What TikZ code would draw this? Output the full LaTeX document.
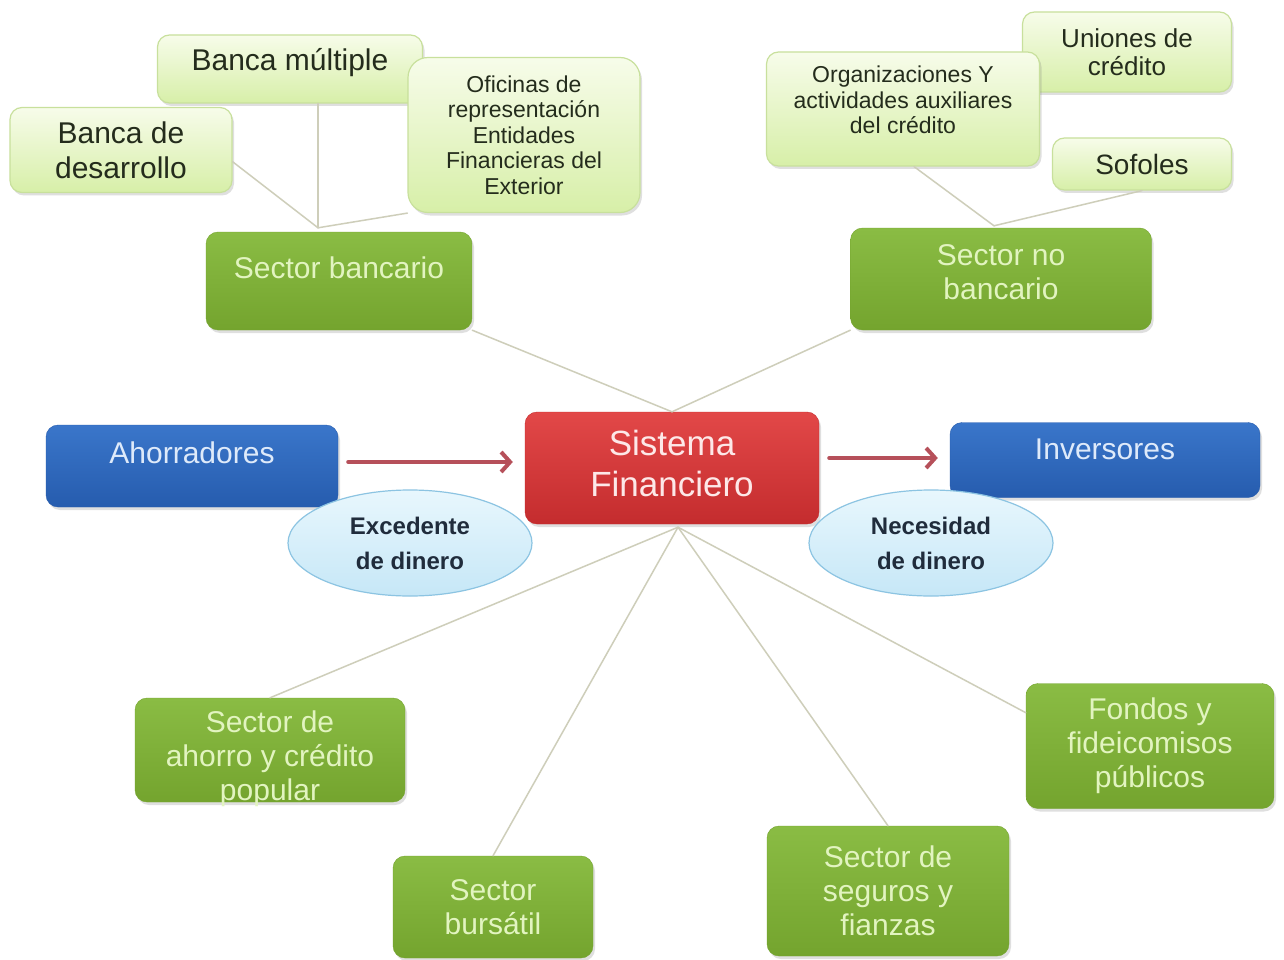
\documentclass[tikz,border=0pt]{standalone}
\usepackage{fontspec}
\setmainfont{Liberation Sans}
\usetikzlibrary{arrows.meta,shapes.geometric,shadows}

\definecolor{verdeclaro1}{RGB}{247,252,234}
\definecolor{verdeclaro2}{RGB}{215,239,168}
\definecolor{bordeclaro}{RGB}{200,224,156}
\definecolor{verdeoscuro1}{RGB}{138,188,68}
\definecolor{verdeoscuro2}{RGB}{116,164,46}
\definecolor{textoverde}{RGB}{226,244,192}
\definecolor{textooscuro}{RGB}{36,44,28}
\definecolor{azul1}{RGB}{58,118,202}
\definecolor{azul2}{RGB}{38,92,174}
\definecolor{textoazul}{RGB}{222,234,250}
\definecolor{rojo1}{RGB}{226,72,72}
\definecolor{rojo2}{RGB}{196,44,46}
\definecolor{textorojo}{RGB}{253,232,232}
\definecolor{celeste1}{RGB}{232,247,253}
\definecolor{celeste2}{RGB}{198,231,247}
\definecolor{bordeceleste}{RGB}{140,196,226}
\definecolor{textonube}{RGB}{32,44,60}
\definecolor{flecha}{RGB}{182,80,90}
\definecolor{linea}{RGB}{206,206,186}

\begin{document}
\begin{tikzpicture}[x=1pt, y=-1pt, line cap=round, line join=round,
		caja/.style={rectangle, rounded corners=12pt, inner sep=2pt, align=center,
			drop shadow={opacity=0.25, shadow xshift=2pt, shadow yshift=-3pt}},
		clara/.style={caja, draw=bordeclaro, line width=1.2pt, top color=verdeclaro1,
			bottom color=verdeclaro2, text=textooscuro},
		oscura/.style={caja, draw=verdeoscuro2, top color=verdeoscuro1, bottom color=verdeoscuro2,
			text=textoverde, font=\fontsize{30}{34}\selectfont},
		azul/.style={caja, draw=azul2, top color=azul1, bottom color=azul2,
			text=textoazul, font=\fontsize{30}{34}\selectfont},
		roja/.style={caja, draw=rojo2, top color=rojo1, bottom color=rojo2,
			text=textorojo, font=\fontsize{35}{41}\selectfont},
		nube/.style={ellipse, draw=bordeceleste, line width=1.2pt, top color=celeste1,
			bottom color=celeste2, text=textonube, align=center, inner sep=0pt,
			minimum width=244pt, minimum height=106pt, font=\bfseries\fontsize{24}{35}\selectfont},
		enlace/.style={draw=linea, line width=1.5pt},
		flujo/.style={draw=flecha, line width=4pt, -{Straight Barb[length=9pt,width=20pt]},
			shorten <=10pt, shorten >=12pt}]
		
		% Fondo y márgenes
		\fill[white] (0,0) rectangle (1284,960);
		\useasboundingbox (0,0) rectangle (1284,960);
		
		% Sector bancario y sus ramas
		\node[clara, minimum width=265pt, minimum height=68pt, font=\fontsize{30}{34}\selectfont,
			text height=24pt, text depth=20.4pt] (multiple) at (290,69) {Banca múltiple};
		\node[clara, minimum width=222pt, minimum height=85pt, font=\fontsize{30}{35}\selectfont]
			(desarrollo) at (121,150) {Banca de\\desarrollo};
		\node[clara, rounded corners=20pt, minimum width=232pt, minimum height=155pt,
			font=\fontsize{23}{25.5}\selectfont] (oficinas) at (524,135)
			{Oficinas de\\representación\\Entidades\\Financieras del\\Exterior};
		\node[oscura, minimum width=266pt, minimum height=98pt, text height=22pt, text depth=26.4pt]
			(bancario) at (339,281) {Sector bancario};
		
		% Sector no bancario y sus ramas
		\node[clara, minimum width=209pt, minimum height=80pt, font=\fontsize{26}{28}\selectfont]
			(uniones) at (1127,52) {Uniones de\\crédito};
		\node[clara, minimum width=273pt, minimum height=114pt, font=\fontsize{23}{25.5}\selectfont,
			text height=56pt, text depth=6.4pt] (organiz) at (903,109)
			{Organizaciones Y\\actividades auxiliares\\del crédito};
		\node[clara, minimum width=179pt, minimum height=52pt, font=\fontsize{28}{32}\selectfont]
			(sofoles) at (1142,164) {Sofoles};
		\node[oscura, minimum width=301pt, minimum height=102pt, text height=50pt, text depth=8.4pt]
			(nobancario) at (1001,279) {Sector no\\bancario};
		
		% Flujo central
		\node[azul, minimum width=292pt, minimum height=82pt, text height=22pt, text depth=26.4pt]
			(ahorradores) at (192,466) {Ahorradores};
		\node[roja, minimum width=294pt, minimum height=112pt, text height=64pt, text depth=7.8pt]
			(sistema) at (672,468) {Sistema\\Financiero};
		\node[azul, minimum width=310pt, minimum height=75pt, text height=22pt, text depth=22.4pt]
			(inversores) at (1105,460) {Inversores};
		\node[nube] (excedente) at (410,543) {Excedente\\de dinero};
		\node[nube] (necesidad) at (931,543) {Necesidad\\de dinero};
		
		% Sectores inferiores
		\node[oscura, minimum width=270pt, minimum height=104pt, text height=100pt, text depth=0pt]
			(popular) at (270,750) {Sector de\\ahorro y crédito\\popular};
		\node[oscura, minimum width=200pt, minimum height=102pt] (bursatil) at (493,907) {Sector\\bursátil};
		\node[oscura, minimum width=242pt, minimum height=130pt] (seguros) at (888,891)
			{Sector de\\seguros y\\fianzas};
		\node[oscura, minimum width=248pt, minimum height=125pt] (fondos) at (1150,746)
			{Fondos y\\fideicomisos\\públicos};
		
		% Puntos de unión
		\coordinate (cbanc) at ([xshift=-21pt,yshift=4pt]bancario.north);
		\coordinate (cnob) at ([xshift=-7pt,yshift=2pt]nobancario.north);
		\coordinate (cinf) at ([xshift=6pt,yshift=-3pt]sistema.south);
		
		% Enlaces
		\draw[enlace] (cbanc) -- (desarrollo.-6);
		\draw[enlace] (cbanc) -- (cbanc |- multiple.south);
		\draw[enlace] (cbanc) -- (oficinas.south west);
		\draw[enlace] (cnob) -- ([xshift=11pt]organiz.south);
		\draw[enlace] (cnob) -- (sofoles.south);
		\draw[enlace] (sistema.north) -- (bancario.south east);
		\draw[enlace] (sistema.north) -- (nobancario.south west);
		\draw[enlace] (cinf) -- (popular.north);
		\draw[enlace] (cinf) -- (bursatil.north);
		\draw[enlace] (cinf) -- (seguros.north);
		\draw[enlace] (cinf) -- (fondos.165);
		
		% Flechas
		\draw[flujo] ([yshift=4pt]ahorradores.east) -- ([yshift=4pt]ahorradores.east -| sistema.west);
		\draw[flujo] ([yshift=2pt]sistema.east |- inversores.east) -- ([yshift=2pt]inversores.west);
		
	\end{tikzpicture}
\end{document}
